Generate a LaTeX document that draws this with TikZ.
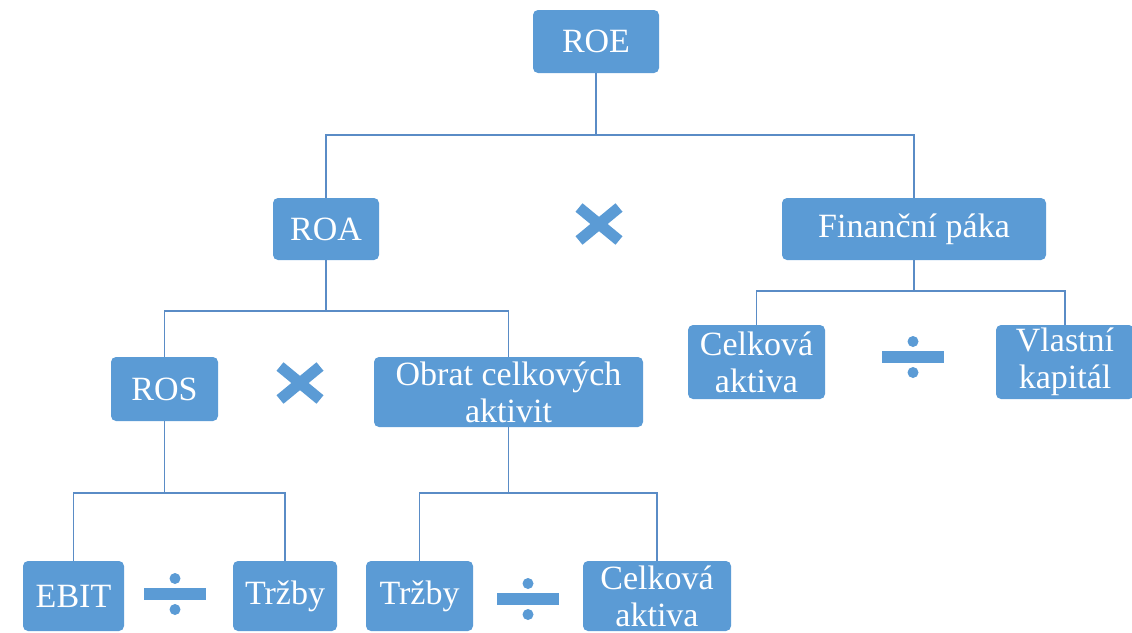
\documentclass[tikz,border=0pt]{standalone}
\usepackage{fontspec}
\setmainfont{Liberation Serif}
\usetikzlibrary{positioning}
\definecolor{boxblue}{HTML}{5B9BD5}
\definecolor{lineblue}{HTML}{5A8CC6}
\tikzset{
  box/.style={fill=boxblue, rounded corners=5pt, text=white, align=center,
    inner sep=0pt, font=\fontsize{34}{37}\selectfont},
  link/.style={draw=lineblue, line width=1.6pt},
  timesop/.pic={\draw[boxblue, line width=11pt] (-20,-16.5) -- (20,16.5) (-20,16.5) -- (20,-16.5);},
  divop/.pic={\fill[boxblue] (-31,-6) rectangle (31,6);
    \fill[boxblue] (0,-15.5) circle (5.5) (0,15.5) circle (5.5);}
}

\begin{document}
\begin{tikzpicture}[x=1pt, y=-1pt]
    \useasboundingbox (0,0) rectangle (1132,632);
    \clip (0,0) rectangle (1132,632);
    % top level
    \node[box, minimum width=126, minimum height=63] (roe) at (596,41.5) {ROE};
    \node[box, minimum width=106, minimum height=62] (roa) at (326,229) {ROA};
    \node[box, minimum width=264, minimum height=62] (fin) at (914,229) {Finanční páka};
    % second level
    \node[box, minimum width=107, minimum height=64] (ros) at (164.5,389) {ROS};
    \node[box, minimum width=269, minimum height=70] (obr) at (508.5,392) {Obrat celkových\\aktivit};
    \node[box, minimum width=137, minimum height=74] (cel) at (756.5,362) {Celková\\aktiva};
    \node[box, minimum width=138, minimum height=74] (vla) at (1065,362) {Vlastní\\kapitál};
    % bottom level
    \node[box, minimum width=101, minimum height=70] (ebit) at (73.5,596) {EBIT};
    \node[box, minimum width=104, minimum height=70] (trz1) at (285,596) {Tržby};
    \node[box, minimum width=107, minimum height=70] (trz2) at (419.5,596) {Tržby};
    \node[box, minimum width=148, minimum height=70] (cel2) at (657,596) {Celková\\aktiva};
    % connectors
    \draw[link] (roe.south) -- ++(0,62) coordinate (s1);
    \draw[link] (roa.north) |- (s1) -| (fin.north);
    \draw[link] (roa.south) -- ++(0,51) coordinate (s2);
    \draw[link] (ros.north) |- (s2) -| (obr.north);
    \draw[link] (fin.south) -- ++(0,31) coordinate (s3);
    \draw[link] (cel.north) |- (s3) -| (vla.north);
    \draw[link] (ros.south) -- ++(0,72) coordinate (s4);
    \draw[link] (ebit.north) |- (s4) -| (trz1.north);
    \draw[link] (obr.south) -- ++(0,66) coordinate (s5);
    \draw[link] (trz2.north) |- (s5) -| (cel2.north);
    % operators
    \pic at (599,224) {timesop};
    \pic at (300,383) {timesop};
    \pic at (175,594) {divop};
    \pic at (528,599) {divop};
    \pic at (913,357) {divop};
\end{tikzpicture}
\end{document}
